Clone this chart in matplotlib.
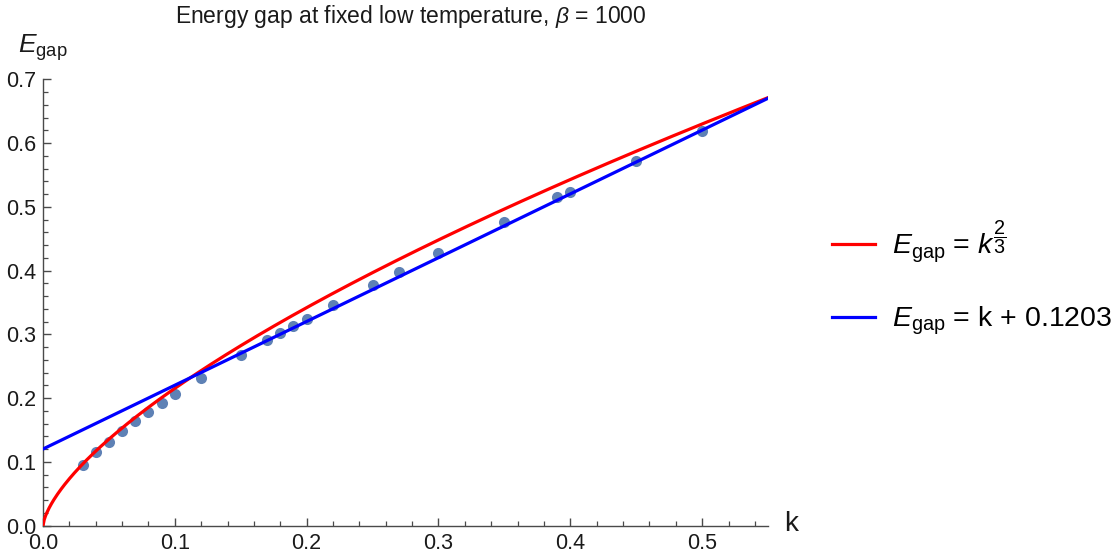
import numpy as np
import matplotlib
matplotlib.use("Agg")
import matplotlib.pyplot as plt

plt.rcParams['font.family'] = ['Liberation Sans', 'DejaVu Sans']
plt.rcParams['mathtext.fontset'] = 'custom'
plt.rcParams['mathtext.rm'] = 'Liberation Sans'
plt.rcParams['mathtext.it'] = 'Liberation Sans:italic'
plt.rcParams['mathtext.bf'] = 'Liberation Sans:bold'

# measured gap values
k_vals = [0.03, 0.04, 0.05, 0.06, 0.07, 0.08, 0.09, 0.10, 0.12, 0.15, 0.17, 0.18,
          0.19, 0.20, 0.22, 0.25, 0.27, 0.30, 0.35, 0.39, 0.40, 0.45, 0.50]
gap_vals = [0.095, 0.116, 0.132, 0.149, 0.164, 0.179, 0.193, 0.206, 0.232, 0.268, 0.291, 0.302,
            0.313, 0.324, 0.346, 0.377, 0.398, 0.427, 0.476, 0.515, 0.523, 0.572, 0.619]

offset = 0.1203
x_ticks = [0.0, 0.1, 0.2, 0.3, 0.4, 0.5]
y_ticks = [0.0, 0.1, 0.2, 0.3, 0.4, 0.5, 0.6, 0.7]

fig = plt.figure(figsize=(11.17, 5.52), dpi=100)
ax = fig.add_axes([0.0385, 0.0476, 0.6491, 0.8087])

kk = np.linspace(0, 0.55, 600)
ax.plot(k_vals, gap_vals, 'o', color='#5E81B5', markersize=8, markeredgewidth=0, zorder=2)
l1, = ax.plot(kk, kk ** (2 / 3), color='#FF0000', lw=2.3, zorder=3,
              label=r'$E_{\mathrm{gap}}$ = $k^{\dfrac{2}{3}}$')
l2, = ax.plot(kk, kk + offset, color='#0000FF', lw=2.3, zorder=4,
              label=r'$E_{\mathrm{gap}}$ = k + 0.1203')

ax.set_xlim(0, 0.55)
ax.set_ylim(0, 0.7)
ax.set_xticks(x_ticks)
ax.set_yticks(y_ticks)
ax.set_xticklabels([f'{v:.1f}' for v in x_ticks])
ax.set_yticklabels([f'{v:.1f}' for v in y_ticks])
ax.set_xticks(np.arange(0, 0.551, 0.02), minor=True)
ax.set_yticks(np.arange(0, 0.701, 0.02), minor=True)

axis_col = '#4a4a4a'
for s in ['top', 'right']:
    ax.spines[s].set_visible(False)
for s in ['left', 'bottom']:
    ax.spines[s].set_color(axis_col)
    ax.spines[s].set_linewidth(1.0)
ax.tick_params(which='major', direction='in', length=6, width=1.0, color=axis_col,
               labelsize=15.5, labelcolor='#1a1a1a', pad=5)
ax.tick_params(which='minor', direction='in', length=3.5, width=0.9, color=axis_col)
ax.set_facecolor('white')

fig.text(791 / 1117, 1 - 524 / 552, 'k', fontsize=20, color='#1a1a1a', ha='center', va='center')
fig.text(43 / 1117, 1 - 48 / 552, r'$E_{\mathrm{gap}}$', fontsize=19, color='#1a1a1a',
         ha='center', va='center')
fig.text(411 / 1117, 1 - 17 / 552, r'Energy gap at fixed low temperature, $\beta$ = 1000',
         fontsize=16.5, color='#1a1a1a', ha='center', va='center')

fig.legend(handles=[l1, l2], loc='center left', bbox_to_anchor=(832 / 1117, 0.497),
           frameon=False, fontsize=20.5, handlelength=1.5, handletextpad=0.6,
           labelspacing=1.4, borderpad=0, borderaxespad=0)

fig.savefig('out.png', dpi=100, facecolor='white')
